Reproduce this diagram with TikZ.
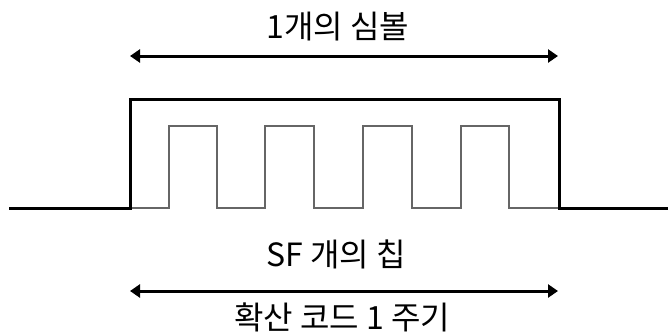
\documentclass[tikz,border=0pt]{standalone}
\usepackage{fontspec}
\setmainfont{Noto Sans CJK KR}
\usetikzlibrary{arrows.meta}
\begin{document}
\begin{tikzpicture}[x=1pt,y=-1pt,
  thickline/.style={line width=3pt,line cap=rect,line join=miter},
  chipline/.style={line width=1.1pt,draw=black!60},
  dimarrow/.style={line width=3pt,{Triangle[length=10pt,width=13pt]}-{Triangle[length=10pt,width=13pt]}},
  label/.style={font=\fontsize{32}{36}\selectfont,inner sep=0pt}]
\useasboundingbox (0,0) rectangle (668,333);
% labels
\node[label] (sym) at (338,27) {1개의 심볼};
\node[label] (sf) at (336,254) {SF 개의 칩};
\node[label] (code) at (342,317) {확산 코드 1 주기};
% dimension arrows
\coordinate (a1) at (130,56);
\coordinate (a2) at (558,56);
\coordinate (b1) at (130,291);
\coordinate (b2) at (558,291);
\draw[dimarrow] (a1) -- (a2);
\draw[dimarrow] (b1) -- (b2);
% chip sequence
\draw[chipline] (130,208) -- (169,208) -- (169,126) -- (217,126) -- (217,208)
  -- (265,208) -- (265,126) -- (314,126) -- (314,208)
  -- (363,208) -- (363,126) -- (412,126) -- (412,208)
  -- (461,208) -- (461,126) -- (509,126) -- (509,208) -- (559,208);
% symbol pulse
\draw[thickline] (10,208) -- (130,208) -- (130,99) -- (559,99) -- (559,208) -- (668,208);
\end{tikzpicture}
\end{document}
